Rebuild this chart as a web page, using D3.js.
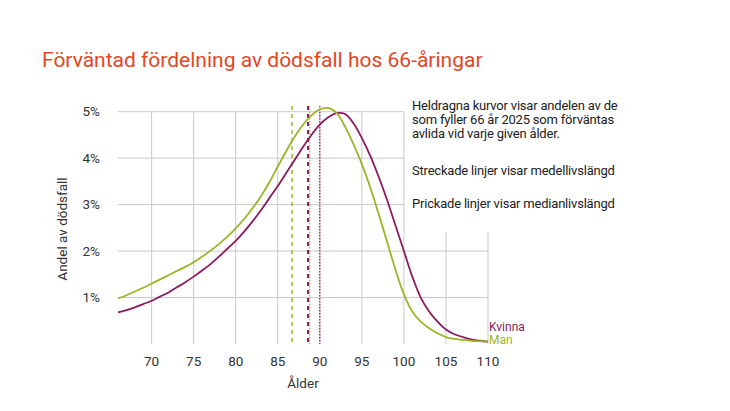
<!DOCTYPE html>
<html>
<head>
<meta charset="utf-8">
<script src="https://cdn.jsdelivr.net/npm/d3@7"></script>
<style>
  body { margin: 0; background: #fff; }
  text { font-family: Roboto, "Noto Sans", sans-serif; }
</style>
</head>
<body>
<svg id="chart" width="730" height="411"></svg>
<script>
// ages 66..110, share of deaths (%) at each age
var ages = d3.range(66, 111);
var man = [0.98, 1.05, 1.13, 1.21, 1.30, 1.39, 1.48, 1.57, 1.66, 1.76,
           1.88, 2.01, 2.15, 2.31, 2.49, 2.69, 2.92, 3.18, 3.48, 3.82,
           4.15, 4.46, 4.72, 4.92, 5.05, 5.08, 4.97, 4.68, 4.30, 3.87,
           3.37, 2.80, 2.20, 1.60, 1.07, 0.70, 0.48, 0.34, 0.23, 0.15,
           0.11, 0.09, 0.07, 0.06, 0.05];
var kvinna = [0.68, 0.73, 0.79, 0.86, 0.93, 1.02, 1.11, 1.22, 1.33, 1.45,
              1.58, 1.72, 1.88, 2.05, 2.22, 2.42, 2.64, 2.88, 3.14, 3.40,
              3.68, 3.96, 4.24, 4.50, 4.72, 4.88, 4.97, 4.95, 4.75, 4.43,
              4.05, 3.60, 3.10, 2.55, 2.00, 1.45, 1.00, 0.70, 0.48, 0.31,
              0.21, 0.15, 0.10, 0.07, 0.05];
var xTicks = [70, 75, 80, 85, 90, 95, 100, 105, 110];
var yTicks = [1, 2, 3, 4, 5];
// medellivslängd (dashed) and medianlivslängd (dotted)
var meanAge = {man: 86.7, kvinna: 88.6};
var medianAge = {man: 88.8, kvinna: 90.0};
var notes = ["Heldragna kurvor visar andelen av de",
             "som fyller 66 år 2025 som förväntas",
             "avlida vid varje given ålder."];

var green = "#9bb528", purple = "#8b1a5f", grid = "#c9c9c9";

var svg = d3.select("#chart");
var x = d3.scaleLinear().domain([66, 110]).range([118, 488]);
var y = d3.scaleLinear().domain([0, 5]).range([344, 111.7]);

svg.append("text").attr("x", 42).attr("y", 67).text("Förväntad fördelning av dödsfall hos 66-åringar")
   .style("font-size", "21px").style("fill", "#e4461f");

// grid, cut out behind the notes text
svg.selectAll(".vg").data(xTicks).enter().append("line")
   .attr("x1", d => x(d)).attr("x2", d => x(d))
   .attr("y1", d => d > 100 ? 232 : y(5)).attr("y2", y(0))
   .style("stroke", grid).style("stroke-width", 1);
svg.selectAll(".hg").data(yTicks).enter().append("line")
   .attr("x1", x(66)).attr("x2", d => d > 2 ? x(100) : x(110))
   .attr("y1", d => y(d)).attr("y2", d => y(d))
   .style("stroke", grid).style("stroke-width", 1);

svg.selectAll(".yl").data(yTicks).enter().append("text")
   .attr("x", 100).attr("y", d => y(d)).attr("dy", "0.35em").attr("text-anchor", "end")
   .text(d => d + "%").style("font-size", "13.5px").style("fill", "#333");
svg.selectAll(".xl").data(xTicks).enter().append("text")
   .attr("x", d => x(d)).attr("y", 361).attr("dy", "0.35em").attr("text-anchor", "middle")
   .text(d => d).style("font-size", "13.5px").style("fill", "#333");

svg.append("text").attr("x", x(88)).attr("y", 383).attr("dy", "0.35em").attr("text-anchor", "middle")
   .text("Ålder").style("font-size", "13.5px").style("fill", "#333");
svg.append("text").attr("transform", "translate(62,229) rotate(-90)").attr("dy", "0.35em")
   .attr("text-anchor", "middle").text("Andel av dödsfall").style("font-size", "13.5px").style("fill", "#333");

// vertical reference lines
function vline(age, color, dash, w) {
  svg.append("line").attr("x1", x(age)).attr("x2", x(age)).attr("y1", 106).attr("y2", y(0))
     .style("stroke", color).style("stroke-width", w).style("stroke-dasharray", dash);
}
vline(medianAge.man, green, "1.5,1.5", 1.2);
vline(meanAge.man, green, "4,4", 1.5);
vline(meanAge.kvinna, purple, "4,4", 2);
vline(medianAge.kvinna, purple, "1.5,1.5", 1.2);

var line = d3.line().x(d => x(d[0])).y(d => y(d[1])).curve(d3.curveCatmullRom.alpha(0.5));
svg.append("path").datum(ages.map((a, i) => [a, kvinna[i]])).attr("d", line)
   .style("fill", "none").style("stroke", purple).style("stroke-width", 1.8);
svg.append("path").datum(ages.map((a, i) => [a, man[i]])).attr("d", line)
   .style("fill", "none").style("stroke", green).style("stroke-width", 1.8);

svg.append("text").attr("x", 489).attr("y", 327).attr("dy", "0.35em").text("Kvinna")
   .style("font-size", "12px").style("fill", purple);
svg.append("text").attr("x", 489).attr("y", 339.5).attr("dy", "0.35em").text("Man")
   .style("font-size", "12px").style("fill", green);

svg.selectAll(".note").data(notes).enter().append("text")
   .attr("x", 412).attr("y", (d, i) => 105 + i * 14).attr("dy", "0.35em")
   .text(d => d).style("font-size", "13px").style("fill", "#222").style("letter-spacing", "-0.2px");
svg.append("text").attr("x", 412).attr("y", 170).attr("dy", "0.35em").text("Streckade linjer visar medellivslängd")
   .style("font-size", "13px").style("fill", "#222").style("letter-spacing", "-0.2px");
svg.append("text").attr("x", 412).attr("y", 203).attr("dy", "0.35em").text("Prickade linjer visar medianlivslängd")
   .style("font-size", "13px").style("fill", "#222").style("letter-spacing", "-0.2px");
</script>
</body>
</html>
